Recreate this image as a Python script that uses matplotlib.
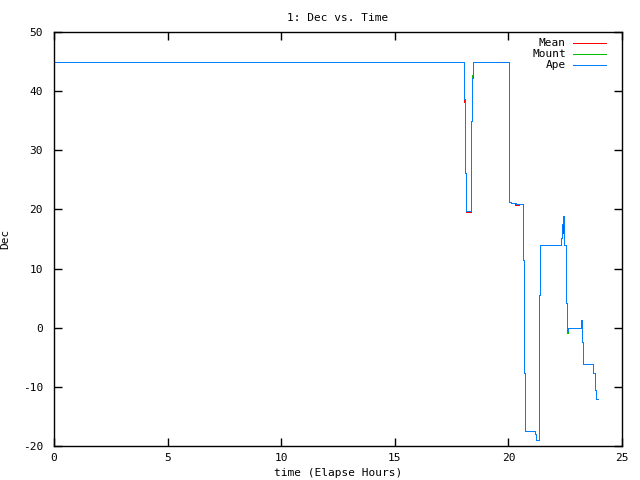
import matplotlib
matplotlib.use("Agg")
import matplotlib.pyplot as plt

# Ape (blue) trace, values held until next time stamp
ape_t = [0.0, 18.06, 18.09, 18.12, 18.34, 18.37, 18.41, 18.46, 20.01, 20.03,
         20.10, 20.35, 20.64, 20.70, 20.73, 21.16, 21.22, 21.33, 21.36, 21.39,
         22.33, 22.37, 22.42, 22.45, 22.54, 22.57, 22.61, 23.18, 23.25, 23.29,
         23.74, 23.81, 23.84, 23.93]
ape_dec = [44.9, 38.6, 26.1, 19.7, 24.8, 35.0, 42.3, 44.9, 33.1, 21.3,
           21.1, 21.0, 11.4, -7.7, -17.5, -18.0, -19.0, -10.8, 5.6, 14.0,
           15.1, 17.6, 18.9, 14.0, 4.2, -0.5, -0.1, 1.3, -2.4, -6.1,
           -7.6, -10.5, -12.1, -12.1]

# Mean (red) differs slightly in a few places
mean_t = [0.0, 18.06, 18.09, 18.12, 18.34, 18.37, 18.41, 18.46, 20.01, 20.03,
          20.10, 20.30, 20.45, 20.64, 20.70, 20.73, 21.16, 21.22, 21.33, 21.36,
          21.39, 22.33, 22.37, 22.42, 22.45, 22.54, 22.57, 22.61, 23.18, 23.25,
          23.29, 23.74, 23.81, 23.84, 23.93]
mean_dec = [44.9, 38.2, 26.1, 19.5, 24.8, 35.0, 42.3, 44.9, 33.1, 21.3,
            21.1, 20.7, 21.0, 11.4, -7.7, -17.5, -18.0, -19.0, -10.8, 5.6,
            14.0, 15.1, 16.0, 18.9, 14.0, 4.2, -0.5, -0.1, 1.3, -2.4,
            -6.1, -7.6, -10.5, -12.1, -12.1]

# Mount (green)
mount_t = [0.0, 18.06, 18.09, 18.12, 18.34, 18.37, 18.40, 18.46, 20.01, 20.03,
           20.10, 20.35, 20.64, 20.70, 20.73, 21.16, 21.22, 21.33, 21.36, 21.39,
           22.33, 22.37, 22.42, 22.45, 22.54, 22.57, 22.61, 23.18, 23.25, 23.29,
           23.74, 23.81, 23.84, 23.93]
mount_dec = [44.9, 38.6, 26.1, 19.7, 24.8, 35.0, 42.8, 44.9, 33.1, 21.3,
             21.1, 21.0, 11.4, -7.7, -17.5, -18.0, -19.0, -10.8, 5.6, 14.0,
             15.1, 17.6, 18.9, 14.0, 4.2, -0.9, -0.1, 1.3, -2.4, -6.1,
             -7.6, -10.5, -12.1, -12.1]

x_ticks = [0, 5, 10, 15, 20, 25]
y_ticks = [-20, -10, 0, 10, 20, 30, 40, 50]

FONT = "DejaVu Sans Mono"
FS = 8
LW = 0.72  # one pixel at 100 dpi

fig = plt.figure(figsize=(6.4, 4.8), dpi=100)
ax = fig.add_axes([54 / 640, 34 / 480, 568 / 640, 414 / 480])

ax.plot(mean_t, mean_dec, color="#ff0000", lw=LW, drawstyle="steps-post", antialiased=False)
ax.plot(mount_t, mount_dec, color="#00c000", lw=LW, drawstyle="steps-post", antialiased=False)
ax.plot(ape_t, ape_dec, color="#0080ff", lw=LW, drawstyle="steps-post", antialiased=False)

ax.set_xlim(0, 25)
ax.set_ylim(-20, 50)
ax.set_xticks(x_ticks)
ax.set_yticks(y_ticks)
ax.set_xticklabels([str(v) for v in x_ticks], family=FONT, fontsize=FS)
ax.set_yticklabels([str(v) for v in y_ticks], family=FONT, fontsize=FS)
ax.tick_params(direction="in", length=6, width=1, top=True, right=True)
ax.tick_params(axis="x", pad=5)
ax.tick_params(axis="y", pad=8)
for sp in ax.spines.values():
    sp.set_linewidth(1)

ax.set_xlabel("time (Elapse Hours)", family=FONT, fontsize=FS, labelpad=4)
ax.set_ylabel("Dec", family=FONT, fontsize=FS)
ax.yaxis.set_label_coords(-44 / 568, 0.5)
ax.set_title("1: Dec vs. Time", family=FONT, fontsize=FS, pad=8)

# gnuplot-style key: right aligned text, sample line to the right
legend = [("Mean", "#ff0000"), ("Mount", "#00c000"), ("Ape", "#0080ff")]
for i, (name, col) in enumerate(legend):
    yy = 0.973 - i * 0.0265
    ax.text(0.901, yy, name, transform=ax.transAxes, ha="right", va="center",
            family=FONT, fontsize=FS)
    ax.plot([0.914, 0.972], [yy, yy], color=col, lw=LW, transform=ax.transAxes,
            antialiased=False)

fig.savefig("out.png", dpi=100)
